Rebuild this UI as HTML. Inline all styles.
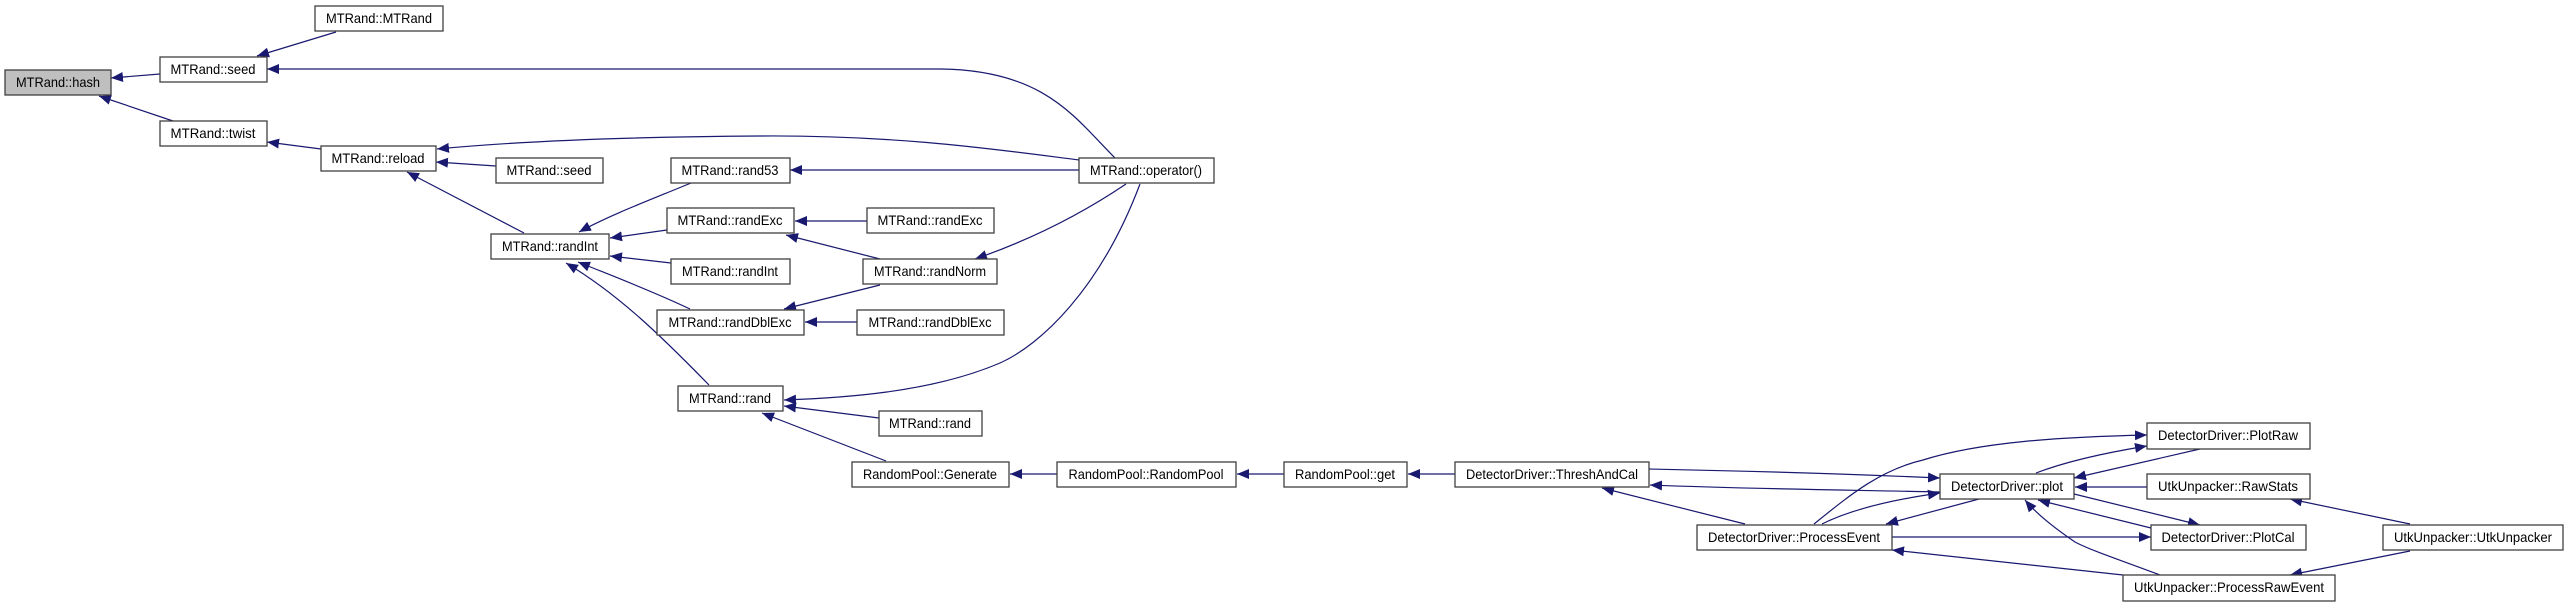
<!DOCTYPE html>
<html><head><meta charset="utf-8"><style>html,body{margin:0;padding:0;background:#fff}svg{display:block}</style></head><body>
<svg width="2568" height="607" viewBox="0 0 2568 607" xmlns="http://www.w3.org/2000/svg" font-family="Liberation Sans, Arial, sans-serif" font-size="14">
<defs>
<marker id="a" markerUnits="userSpaceOnUse" markerWidth="14" markerHeight="12" refX="12" refY="5" orient="auto">
<path d="M0,0 L12,5 L0,10 z" fill="#191970"/>
</marker>
</defs>
<g fill="none" stroke="#191970" stroke-width="1.2" marker-end="url(#a)">
<path d="M160,74 L111,78"/>
<path d="M336,32 L257,56"/>
<path d="M173,121 L99,96"/>
<path d="M321,149 L267,142"/>
<path d="M496,166 L436,162"/>
<path d="M524,233 L407,172"/>
<path d="M1079,160 C1000,150 900,135 760,136 C600,137 500,143 437,149"/>
<path d="M1115,158 C1075,118 1045,70 940,69 L267,69"/>
<path d="M1079,170 L790,170"/>
<path d="M691,183 C650,200 610,215 579,232"/>
<path d="M667,230 L610,238"/>
<path d="M671,263 L610,256"/>
<path d="M690,309 C650,290 610,275 578,262"/>
<path d="M709,385 C665,340 620,295 566,263"/>
<path d="M867,221 L795,221"/>
<path d="M880,259 L786,235"/>
<path d="M880,285 L784,309"/>
<path d="M857,322 L805,322"/>
<path d="M1126,184 C1080,215 1030,240 975,259"/>
<path d="M1140,184 C1100,290 1040,345 1000,363 C930,393 840,398 784,400"/>
<path d="M879,418 L784,406"/>
<path d="M886,461 L762,413"/>
<path d="M1057,474 L1010,474"/>
<path d="M1284,474 L1237,474"/>
<path d="M1455,474 L1408,474"/>
<path d="M1745,524 L1602,488"/>
<path d="M1649,469 C1750,471 1850,474 1940,478"/>
<path d="M1940,492 C1850,490 1750,489 1650,485"/>
<path d="M1814,524 C1850,495 1880,470 1923,460 C1980,442 2060,437 2147,435"/>
<path d="M1822,524 C1850,510 1890,500 1940,493"/>
<path d="M1979,499 L1886,524"/>
<path d="M1892,537 L2151,537"/>
<path d="M2123,575 L1892,550"/>
<path d="M2036,473 C2070,460 2110,452 2147,446"/>
<path d="M2200,449 L2074,478"/>
<path d="M2147,487 L2075,487"/>
<path d="M2074,494 L2200,525"/>
<path d="M2151,528 L2038,500"/>
<path d="M2160,575 C2120,560 2090,550 2075,542 C2050,525 2035,512 2025,500"/>
<path d="M2410,524 L2290,499"/>
<path d="M2410,551 L2290,575"/>
</g>
<g stroke="#404040" stroke-width="1.3" fill="#fff">
<rect x="5" y="70" width="106" height="25" fill="#bfbfbf"/>
<rect x="315" y="6" width="128" height="25"/>
<rect x="160" y="57" width="107" height="25"/>
<rect x="160" y="121" width="107" height="25"/>
<rect x="321" y="146" width="115" height="25"/>
<rect x="496" y="158" width="107" height="25"/>
<rect x="491" y="234" width="118" height="25"/>
<rect x="671" y="158" width="119" height="25"/>
<rect x="667" y="208" width="127" height="25"/>
<rect x="671" y="259" width="119" height="25"/>
<rect x="657" y="310" width="147" height="25"/>
<rect x="678" y="386" width="105" height="25"/>
<rect x="867" y="208" width="127" height="25"/>
<rect x="863" y="259" width="134" height="25"/>
<rect x="857" y="310" width="147" height="25"/>
<rect x="879" y="411" width="103" height="25"/>
<rect x="852" y="462" width="157" height="25"/>
<rect x="1079" y="158" width="135" height="25"/>
<rect x="1057" y="462" width="179" height="25"/>
<rect x="1284" y="462" width="123" height="25"/>
<rect x="1455" y="462" width="194" height="25"/>
<rect x="1697" y="525" width="195" height="25"/>
<rect x="1940" y="474" width="134" height="25"/>
<rect x="2147" y="423" width="163" height="26"/>
<rect x="2147" y="474" width="163" height="25"/>
<rect x="2151" y="525" width="155" height="25"/>
<rect x="2123" y="575" width="212" height="26"/>
<rect x="2383" y="525" width="180" height="25"/>
</g>
<g fill="#000" text-anchor="middle">
<text x="58" y="87" textLength="84" lengthAdjust="spacingAndGlyphs">MTRand::hash</text>
<text x="379" y="23" textLength="106" lengthAdjust="spacingAndGlyphs">MTRand::MTRand</text>
<text x="213" y="74" textLength="85" lengthAdjust="spacingAndGlyphs">MTRand::seed</text>
<text x="213" y="138" textLength="85" lengthAdjust="spacingAndGlyphs">MTRand::twist</text>
<text x="378" y="163" textLength="93" lengthAdjust="spacingAndGlyphs">MTRand::reload</text>
<text x="549" y="175" textLength="85" lengthAdjust="spacingAndGlyphs">MTRand::seed</text>
<text x="550" y="251" textLength="96" lengthAdjust="spacingAndGlyphs">MTRand::randInt</text>
<text x="730" y="175" textLength="97" lengthAdjust="spacingAndGlyphs">MTRand::rand53</text>
<text x="730" y="225" textLength="105" lengthAdjust="spacingAndGlyphs">MTRand::randExc</text>
<text x="730" y="276" textLength="96" lengthAdjust="spacingAndGlyphs">MTRand::randInt</text>
<text x="730" y="327" textLength="123" lengthAdjust="spacingAndGlyphs">MTRand::randDblExc</text>
<text x="730" y="403" textLength="82" lengthAdjust="spacingAndGlyphs">MTRand::rand</text>
<text x="930" y="225" textLength="105" lengthAdjust="spacingAndGlyphs">MTRand::randExc</text>
<text x="930" y="276" textLength="112" lengthAdjust="spacingAndGlyphs">MTRand::randNorm</text>
<text x="930" y="327" textLength="123" lengthAdjust="spacingAndGlyphs">MTRand::randDblExc</text>
<text x="930" y="428" textLength="82" lengthAdjust="spacingAndGlyphs">MTRand::rand</text>
<text x="930" y="479" textLength="134" lengthAdjust="spacingAndGlyphs">RandomPool::Generate</text>
<text x="1146" y="175" textLength="112" lengthAdjust="spacingAndGlyphs">MTRand::operator()</text>
<text x="1146" y="479" textLength="155" lengthAdjust="spacingAndGlyphs">RandomPool::RandomPool</text>
<text x="1345" y="479" textLength="100" lengthAdjust="spacingAndGlyphs">RandomPool::get</text>
<text x="1552" y="479" textLength="172" lengthAdjust="spacingAndGlyphs">DetectorDriver::ThreshAndCal</text>
<text x="1794" y="542" textLength="172" lengthAdjust="spacingAndGlyphs">DetectorDriver::ProcessEvent</text>
<text x="2007" y="491" textLength="112" lengthAdjust="spacingAndGlyphs">DetectorDriver::plot</text>
<text x="2228" y="440" textLength="140" lengthAdjust="spacingAndGlyphs">DetectorDriver::PlotRaw</text>
<text x="2228" y="491" textLength="140" lengthAdjust="spacingAndGlyphs">UtkUnpacker::RawStats</text>
<text x="2228" y="542" textLength="133" lengthAdjust="spacingAndGlyphs">DetectorDriver::PlotCal</text>
<text x="2229" y="592" textLength="190" lengthAdjust="spacingAndGlyphs">UtkUnpacker::ProcessRawEvent</text>
<text x="2473" y="542" textLength="158" lengthAdjust="spacingAndGlyphs">UtkUnpacker::UtkUnpacker</text>
</g>
</svg>
</body></html>
